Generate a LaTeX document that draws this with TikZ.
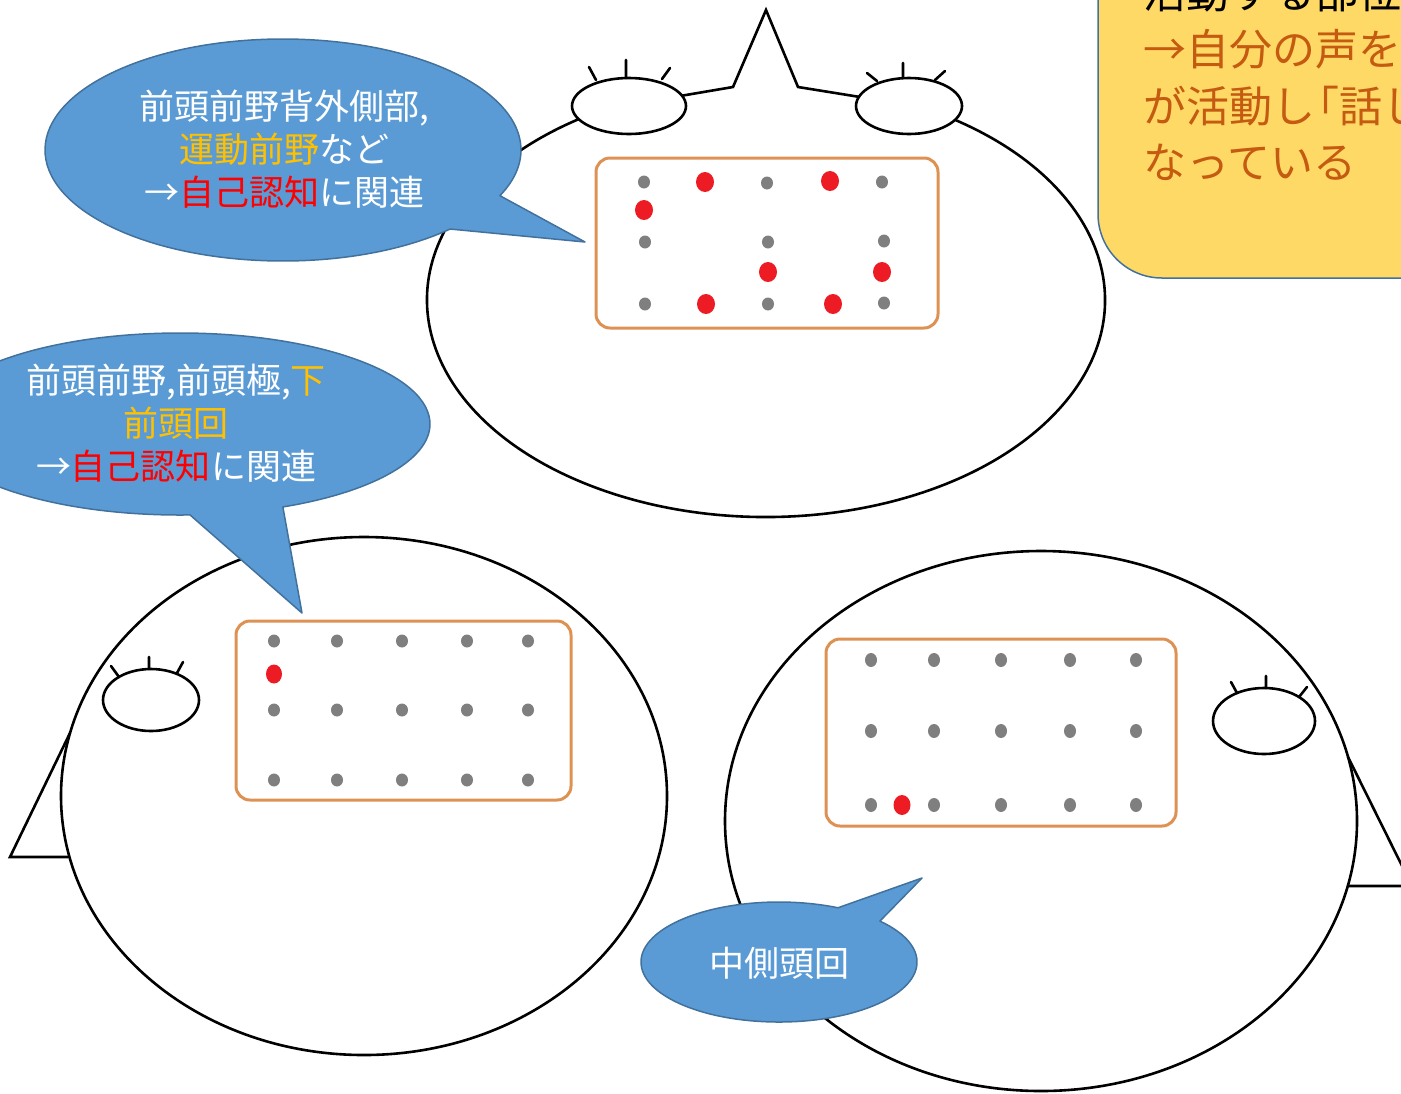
\documentclass[tikz,border=0pt]{standalone}
\usepackage{fontspec}
\newfontfamily\jpfont{Noto Sans CJK JP}
\definecolor{bubblefill}{RGB}{91,155,213}
\definecolor{bubbleline}{RGB}{65,113,156}
\definecolor{gridline}{RGB}{221,146,84}
\definecolor{dotgray}{RGB}{127,127,127}
\definecolor{dotred}{RGB}{237,28,36}
\definecolor{notefill}{RGB}{255,217,102}
\definecolor{notetext}{RGB}{197,90,17}
\definecolor{hilite}{RGB}{255,192,0}
\begin{document}
\begin{tikzpicture}[x=.5pt,y=-.5pt,line join=round,line cap=round,
  head/.style={line width=1.3pt},
  eye/.style={line width=1.3pt,fill=white},
  grid/.style={draw=gridline,line width=1.5pt,rounded corners=7pt},
  bubble/.style={fill=bubblefill,draw=bubbleline,line width=.75pt},
  say/.style={text=white,align=center,inner sep=0,font=\jpfont\fontsize{17.5}{21.5}\selectfont},
  memo/.style={text=notetext,anchor=west,inner sep=0,font=\jpfont\fontsize{21.5}{26}\selectfont}]
\useasboundingbox (0,0) rectangle (1401,1093);
\clip (0,0) rectangle (1401,1093);
\path (766,300) coordinate (T)
(364,796) coordinate (L)
(1041,821) coordinate (R);
% bottom left head, facing left
\draw[head] (L) ellipse[x radius=303,y radius=259];
\draw[head,line join=miter] (70,733)--(10,857)--(68,857);
\draw[eye] (151,700) ellipse[x radius=48,y radius=31];
\draw[head] (119,677)--(111,666) (149,669)--(149,657) (177,673)--(183,662);
\draw[grid] (236,621) rectangle (571,800);
\foreach \x in {274,337,402,467,528}
  \foreach \y in {641,710,780}
    \fill[dotgray] (\x,\y) ellipse[x radius=6,y radius=6.5];
\fill[dotred] (274,674) ellipse[x radius=8,y radius=9.5];
% bottom right head, facing right
\draw[head] (R) ellipse[x radius=316,y radius=270];
\draw[head,line join=miter] (1348,757)--(1412,886)--(1348,886);
\draw[eye] (1264,721) ellipse[x radius=51,y radius=33];
\draw[head] (1237,693)--(1231,682) (1266,688)--(1266,676) (1299,697)--(1307,687);
\draw[grid] (826,639) rectangle (1176,826);
\foreach \x in {871,934,1001,1070,1136}
  \foreach \y in {660,731,805}
    \fill[dotgray] (\x,\y) ellipse[x radius=6,y radius=7];
\fill[dotred] (902,805) ellipse[x radius=8.5,y radius=10];
% top head, seen from above
\draw[head] ([shift={(-58:339 and 217)}]T) arc[start angle=-58,end angle=240,x radius=339,y radius=217];
\draw[head,line join=miter] (680,96)--(733,87)--(766,10)--(798,87)--(860,97);
\draw[eye] (629,106) ellipse[x radius=57,y radius=28];
\draw[eye] (909,106) ellipse[x radius=53,y radius=28];
\draw[head] (596,80)--(589,67) (626,78)--(626,60) (662,79)--(670,68)
(877,81)--(867,73) (903,78)--(903,63) (935,80)--(945,71);
\draw[grid] (596,158) rectangle (938,328);
\fill[dotgray] (644,182) ellipse[x radius=6,y radius=6.5] (767,183) ellipse[x radius=6,y radius=6.5]
(882,182) ellipse[x radius=6,y radius=6.5] (645,242) ellipse[x radius=6,y radius=6.5]
(768,242) ellipse[x radius=6,y radius=6.5] (884,241) ellipse[x radius=6,y radius=6.5]
(645,304) ellipse[x radius=6,y radius=6.5] (768,304) ellipse[x radius=6,y radius=6.5]
(884,303) ellipse[x radius=6,y radius=6.5];
\fill[dotred] (705,182) ellipse[x radius=9,y radius=10] (830,181) ellipse[x radius=9,y radius=10]
(644,210) ellipse[x radius=9,y radius=10] (768,272) ellipse[x radius=9,y radius=10]
(882,272) ellipse[x radius=9,y radius=10] (706,304) ellipse[x radius=9,y radius=10]
(833,304) ellipse[x radius=9,y radius=10];
% note at the top right
\draw[fill=notefill,draw=bubbleline,line width=.75pt,rounded corners=32pt] (1098,-60) rectangle (1480,278);
\node[memo,text=black] (m1) at (1143,-8) {活動する部位};
\node[memo] (m2) at (1143,49) {→自分の声を};
\node[memo] (m3) at (1143,106) {が活動し\hspace{-.45em}「話し};
\node[memo] (m4) at (1143,162) {なっている};
% speech bubbles
\path (283,150) coordinate (b1)
(180,424) coordinate (b2)
(779,962) coordinate (b3);
\draw[bubble] ([shift={(45.4:238 and 111)}]b1) arc[start angle=45.4,end angle=384.3,x radius=238,y radius=111]--(585,242) coordinate (tip1)--cycle;
\draw[bubble] ([shift={(87.7:250 and 91)}]b2) arc[start angle=87.7,end angle=425.7,x radius=250,y radius=91]--(302,613) coordinate (tip2)--cycle;
\draw[bubble] ([shift={(-43:138 and 60)}]b3) arc[start angle=-43,end angle=295.3,x radius=138,y radius=60]--(922,878) coordinate (tip3)--cycle;
\node[say] (s1) at (284,149) {前頭前野背外側部,\\\textcolor{hilite}{運動前野}など\\→\textcolor{red}{自己認知}に関連};
\node[say] (s2) at (176,423) {前頭前野,前頭極,\textcolor{hilite}{下}\\\textcolor{hilite}{前頭回}\\→\textcolor{red}{自己認知}に関連};
\node[say] (s3) at (779,963) {中側頭回};
\end{tikzpicture}
\end{document}
